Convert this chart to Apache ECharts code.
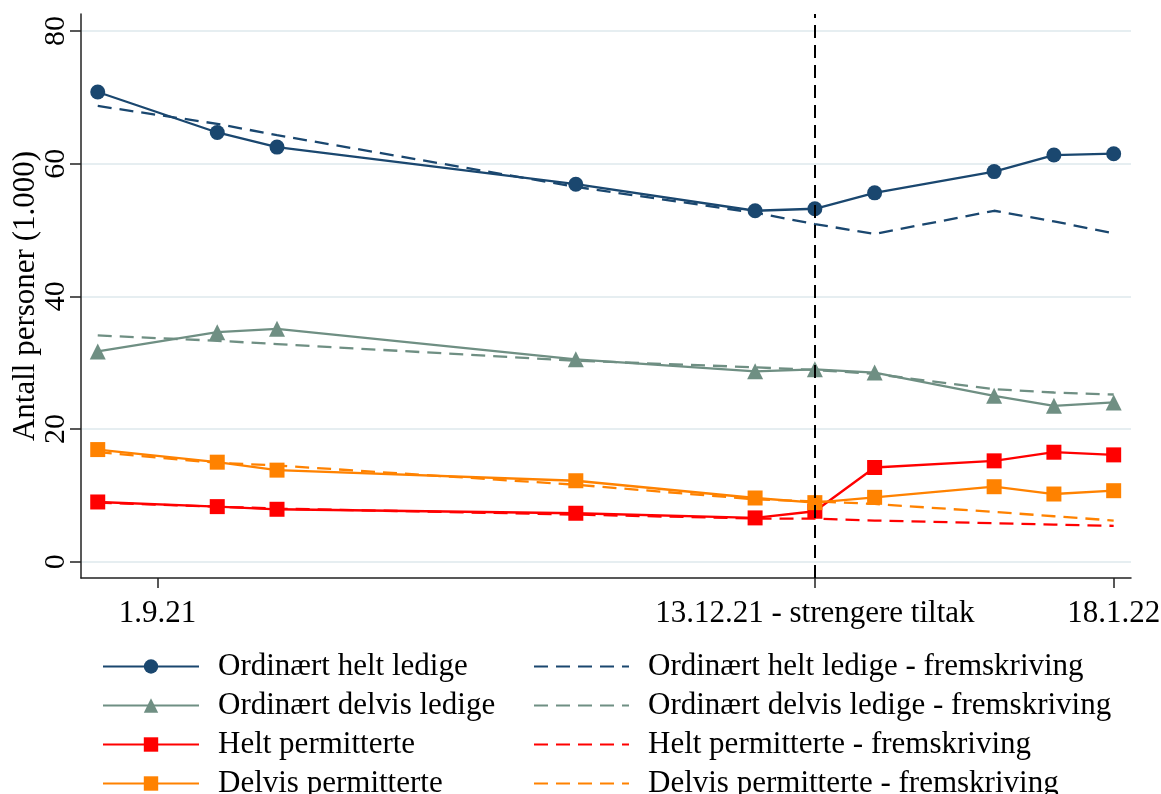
<!DOCTYPE html>
<html>
<head>
<meta charset="utf-8">
<script src="https://cdn.jsdelivr.net/npm/echarts@6/dist/echarts.min.js"></script>
<style>
  html, body { margin: 0; padding: 0; background: #ffffff; }
  #chart { width: 1161px; height: 794px; }
</style>
</head>
<body>
<div id="chart"></div>
<script>
// Observation points (weekly position on the time axis)
const weekIndex = [0, 2, 3, 8, 11, 12, 13, 15, 16, 17];

// Registered persons, thousands
const helLedige      = [70.8, 64.7, 62.5, 56.9, 52.9, 53.2, 55.6, 58.8, 61.3, 61.5];
const helLedigeFrem  = [68.7, 66.0, 64.3, 56.5, 52.6, 50.9, 49.4, 52.9, 51.3, 49.5];
const delLedige      = [31.7, 34.6, 35.1, 30.5, 28.7, 29.0, 28.5, 25.0, 23.5, 24.0];
const delLedigeFrem  = [34.1, 33.3, 32.8, 30.3, 29.3, 28.9, 28.3, 26.0, 25.5, 25.2];
const heltPerm       = [9.0, 8.3, 7.9, 7.3, 6.6, 7.6, 14.2, 15.2, 16.5, 16.1];
const heltPermFrem   = [8.9, 8.3, 8.0, 7.1, 6.5, 6.5, 6.2, 5.8, 5.6, 5.4];
const delvisPerm     = [16.9, 15.0, 13.8, 12.2, 9.6, 8.9, 9.7, 11.3, 10.2, 10.7];
const delvisPermFrem = [16.5, 14.9, 14.5, 11.6, 9.4, 9.1, 8.7, 7.5, 6.85, 6.2];

// Axis ticks
const xTickPositions = [1, 12, 17];
const xTickLabels = ['1.9.21', '13.12.21 - strengere tiltak', '18.1.22'];
const yTickValues = [0, 20, 40, 60, 80];
const tiltakWeek = 12;

const names = [
  'Ordinært helt ledige',
  'Ordinært delvis ledige',
  'Helt permitterte',
  'Delvis permitterte'
];
const fremSuffix = ' - fremskriving';

const NAVY = '#1a476f';
const GREEN = '#6f8f83';
const RED = '#ff0000';
const ORANGE = '#ff8200';
const FONT = 'Liberation Serif';
const FONT_SIZE = 31;

function pairs(values) {
  return weekIndex.map((w, i) => [w, values[i]]);
}

function solid(name, values, color, symbol, size) {
  return {
    name: name, type: 'line', data: pairs(values),
    symbol: symbol, symbolSize: size, showSymbol: true,
    itemStyle: { color: color },
    lineStyle: { color: color, width: 2.3 },
    emphasis: { disabled: true }, z: 3
  };
}

function dashed(name, values, color) {
  return {
    name: name, type: 'line', data: pairs(values),
    symbol: 'none',
    itemStyle: { color: color },
    lineStyle: { color: color, width: 2.3, type: [14, 8] },
    emphasis: { disabled: true }, z: 2
  };
}

const series = [
  solid(names[0], helLedige, NAVY, 'circle', 15),
  solid(names[1], delLedige, GREEN, 'triangle', 16),
  solid(names[2], heltPerm, RED, 'rect', 15),
  solid(names[3], delvisPerm, ORANGE, 'rect', 15),
  dashed(names[0] + fremSuffix, helLedigeFrem, NAVY),
  dashed(names[1] + fremSuffix, delLedigeFrem, GREEN),
  dashed(names[2] + fremSuffix, heltPermFrem, RED),
  dashed(names[3] + fremSuffix, delvisPermFrem, ORANGE)
];

// Vertical marker at the date of stricter measures
series[0].markLine = {
  silent: true, symbol: 'none', label: { show: false },
  lineStyle: { color: '#000000', width: 2, type: [13, 7] },
  data: [{ xAxis: tiltakWeek }]
};

const legendBase = {
  orient: 'vertical', top: 647, height: 170, padding: 0, itemGap: 0,
  itemHeight: 18,
  selectedMode: false,
  textStyle: { fontFamily: FONT, fontSize: FONT_SIZE, color: '#000', lineHeight: 39, padding: [0, 0, 0, 14] }
};

const option = {
  animation: false,
  backgroundColor: '#ffffff',
  grid: { left: 81, right: 30, top: 14, bottom: 216, containLabel: false, outerBoundsMode: 'none' },
  xAxis: {
    type: 'value', min: -0.28, max: 17.29,
    axisLine: { show: true, onZero: false, lineStyle: { color: '#222', width: 1.5 } },
    axisTick: { show: true, length: 10, customValues: xTickPositions, lineStyle: { color: '#222', width: 1.5 } },
    axisLabel: {
      customValues: xTickPositions, margin: 20,
      fontFamily: FONT, fontSize: FONT_SIZE, color: '#000',
      formatter: v => xTickLabels[xTickPositions.indexOf(v)]
    },
    splitLine: { show: false }
  },
  yAxis: {
    type: 'value', min: -2.46, max: 82.56,
    name: 'Antall personer (1.000)', nameLocation: 'middle', nameGap: 40, nameRotate: 90,
    nameMoveOverlap: false,
    nameTextStyle: { fontFamily: FONT, fontSize: FONT_SIZE, color: '#000' },
    axisLine: { show: true, onZero: false, lineStyle: { color: '#222', width: 1.5 } },
    axisTick: { show: true, length: 11, customValues: yTickValues, lineStyle: { color: '#222', width: 1.5 } },
    axisLabel: {
      customValues: yTickValues, rotate: 90, margin: 10,
      fontFamily: FONT, fontSize: 30, color: '#000'
    },
    splitLine: { show: true, lineStyle: { color: '#e6eef1', width: 2 } }
  },
  legend: [
    Object.assign({}, legendBase, { left: 102, itemWidth: 96, data: names }),
    Object.assign({}, legendBase, {
      left: 533, itemWidth: 95,
      // projection lines carry no marker in the key
      data: names.map(n => ({ name: n + fremSuffix, itemStyle: { opacity: 0, color: 'rgba(0,0,0,0)', borderWidth: 0 } }))
    })
  ],
  series: series
};

const chart = echarts.init(document.getElementById('chart'), null, { renderer: 'canvas' });
chart.setOption(option);
</script>
</body>
</html>
